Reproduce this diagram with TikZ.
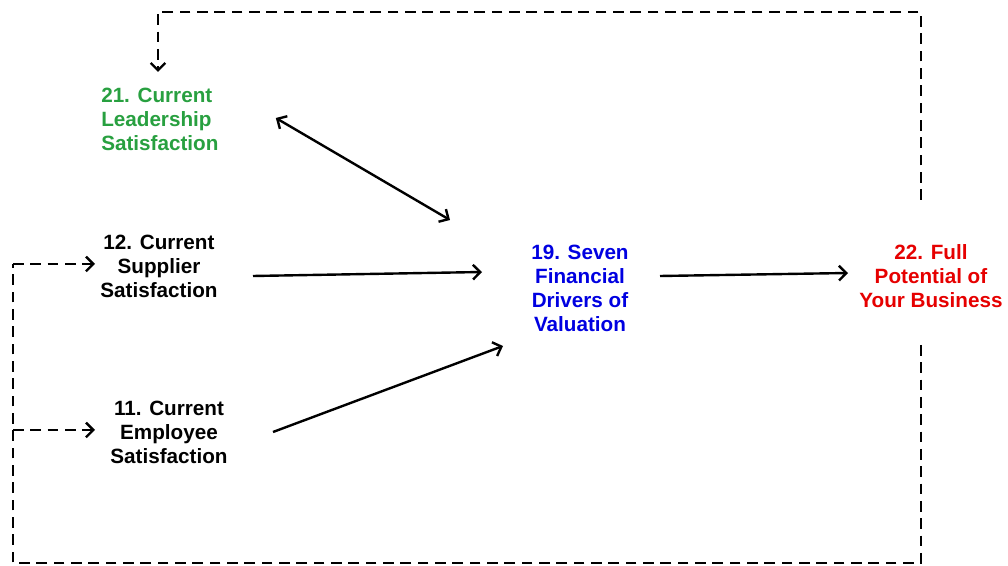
\documentclass[tikz,border=0pt]{standalone}
\usepackage{fontspec}
\setmainfont{Liberation Sans}
\usetikzlibrary{arrows.meta,calc}
\definecolor{lgreen}{RGB}{40,160,64}
\definecolor{dblue}{RGB}{0,0,225}
\definecolor{dred}{RGB}{230,0,0}
\tikzset{
  lbl/.style={font=\bfseries\fontsize{15.5}{18}\selectfont, inner sep=0pt, align=center},
  arr/.style={line width=1.8pt, -{Straight Barb[length=5.5pt,width=11pt,line width=1.8pt]}},
  darr/.style={line width=1.8pt, {Straight Barb[length=5.5pt,width=11pt,line width=1.8pt]}-{Straight Barb[length=5.5pt,width=11pt,line width=1.8pt]}},
  dsh/.style={line width=1.8pt, dash pattern=on 8pt off 5pt},
  dsharr/.style={dsh, -{Straight Barb[length=5.5pt,width=11pt,line width=1.8pt]}}
}
\begin{document}
\begin{tikzpicture}[x=0.75pt,y=-0.75pt]
\useasboundingbox (0,0) rectangle (1008,566);
\fill[white] (0,0) rectangle (1008,566);
% nodes
\node[lbl, text=lgreen, align=left, anchor=west] (n21) at (101,119) {21. Current\\Leadership\\Satisfaction};
\node[lbl] (n12) at (159,266) {12. Current\\Supplier\\Satisfaction};
\node[lbl] (n11) at (169,432) {11. Current\\Employee\\Satisfaction};
\node[lbl, text=dblue] (n19) at (580,288) {19. Seven\\Financial\\Drivers of\\Valuation};
\node[lbl, text=dred] (n22) at (931,276) {22. Full\\Potential of\\Your Business};
% connector end points
\coordinate (a21) at ($(n21.center)+(116,-1)$);
\coordinate (b21) at ($(n19.center)+(-130,-68)$);
\coordinate (a12) at ($(n12.center)+(94,10)$);
\coordinate (b12) at ($(n19.center)+(-98,-16)$);
\coordinate (a11) at ($(n11.center)+(104,0)$);
\coordinate (b11) at ($(n19.center)+(-77,58)$);
\coordinate (a19) at ($(n19.center)+(80,-12)$);
\coordinate (b22) at ($(n22.center)+(-83,-3)$);
\coordinate (t22) at ($(n22.center)+(-10,-76)$);
\coordinate (u22) at ($(n22.center)+(-10,69)$);
\coordinate (t21) at ($(n21.west)+(57,-47)$);
\coordinate (l12) at ($(n12.center)+(-64,-2)$);
\coordinate (l11) at ($(n11.center)+(-74,-2)$);
\coordinate (corner) at (13,563);
% solid connectors
\draw[darr] (a21) -- (b21);
\draw[arr] (a12) -- (b12);
\draw[arr] (a11) -- (b11);
\draw[arr] (a19) -- (b22);
% dashed feedback loops
\draw[dsharr] (t22) -- (t22 |- 0,12) -- (t21 |- 0,12) -- (t21);
\draw[dsh] (u22) -- (u22 |- corner) -- (corner) -- (corner |- l12);
\draw[dsharr] (corner |- l12) -- (l12);
\draw[dsharr] (corner |- l11) -- (l11);
\end{tikzpicture}
\end{document}
